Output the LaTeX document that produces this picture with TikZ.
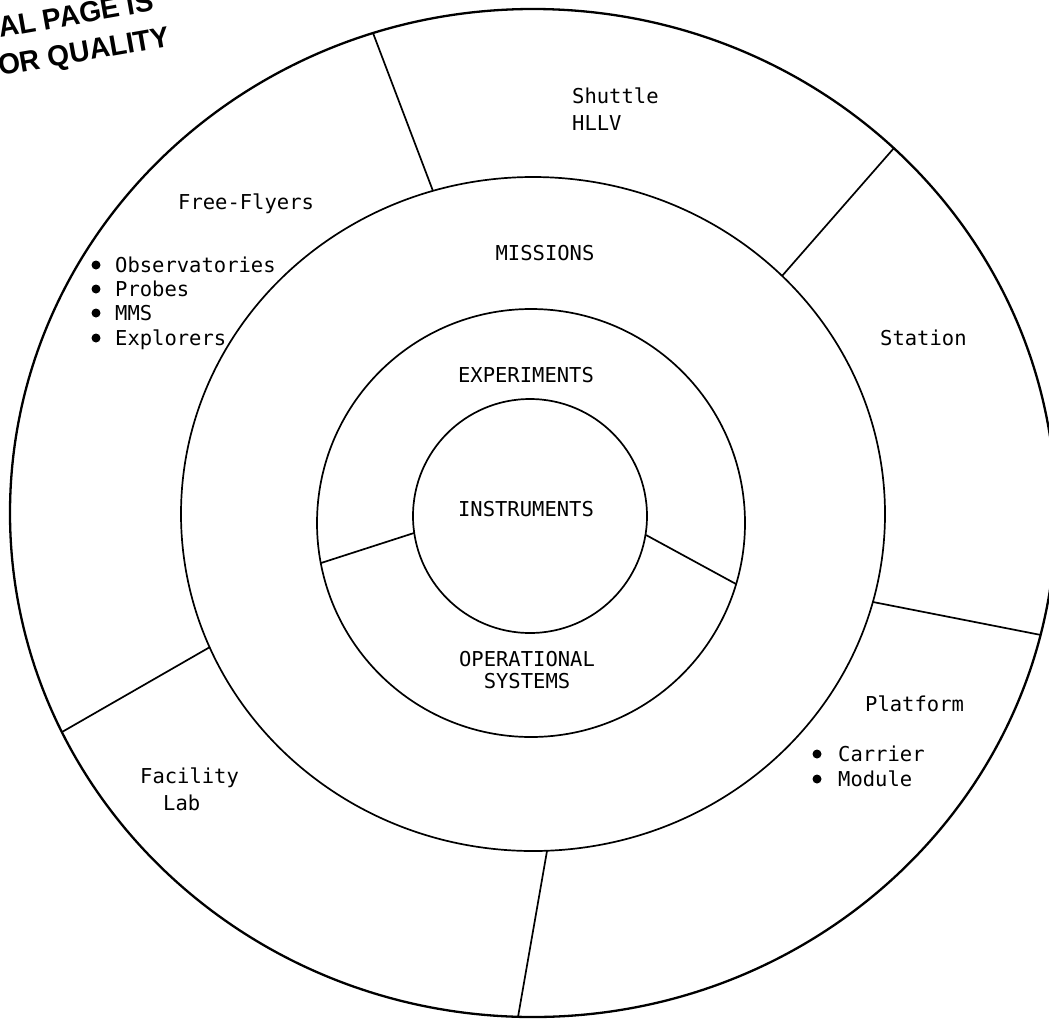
\documentclass[tikz,border=0pt]{standalone}
\usepackage{fontspec}
\newfontfamily\dmono{DejaVu Sans Mono}
\newfontfamily\stampfont{Liberation Sans}
\begin{document}
\begin{tikzpicture}[x=1pt,y=-1pt,
  ring/.style={line width=1.7pt},
  outerring/.style={line width=2.3pt},
  divider/.style={line width=1.7pt},
  lbl/.style={font=\dmono\fontsize{20.5}{24}\selectfont, inner sep=0pt},
  bul/.style={fill=black, circle, minimum size=9pt, inner sep=0pt},
  stamp/.style={font=\stampfont\bfseries\fontsize{29}{37.4}\selectfont, inner sep=0pt, anchor=base west, rotate=10}
]
\clip (0,0) rectangle (1049,1018);

% centres
\coordinate (cO) at (533,513);
\coordinate (cM) at (533,514);
\coordinate (cE) at (531,523);
\coordinate (cI) at (530,516);

% rings
\draw[outerring] (cO) ellipse [x radius=523pt, y radius=504pt];
\draw[ring] (cM) ellipse [x radius=352pt, y radius=337pt];
\draw[ring] (cE) circle [radius=214pt];
\draw[ring] (cI) circle [radius=117pt];

% outer ring dividers
\coordinate (d1o) at (373,33);   \coordinate (d1i) at (433,191);
\coordinate (d2o) at (894,148);  \coordinate (d2i) at (782,276);
\coordinate (d3o) at (1041,635); \coordinate (d3i) at (873,602);
\coordinate (d4o) at (518,1017); \coordinate (d4i) at (547,851);
\coordinate (d5o) at (62,732);   \coordinate (d5i) at (210,647);
\draw[divider] (d1o) -- (d1i);
\draw[divider] (d2o) -- (d2i);
\draw[divider] (d3o) -- (d3i);
\draw[divider] (d4o) -- (d4i);
\draw[divider] (d5o) -- (d5i);

% inner dividers
\coordinate (e1i) at (414,533); \coordinate (e1o) at (321,563);
\coordinate (e2i) at (646,535); \coordinate (e2o) at (736,584);
\draw[divider] (e1i) -- (e1o);
\draw[divider] (e2i) -- (e2o);

% centre labels
\node[lbl, anchor=base] (missions) at (545,260) {MISSIONS};
\node[lbl, anchor=base] (experiments) at (526,382) {EXPERIMENTS};
\node[lbl, anchor=base] (instruments) at (526,516) {INSTRUMENTS};
\node[lbl, anchor=base] (ops1) at (527,666) {OPERATIONAL};
\node[lbl, anchor=base] (ops2) at (527,688) {SYSTEMS};

% outer labels
\node[lbl, anchor=base west] (shuttle) at (572,103) {Shuttle};
\node[lbl, anchor=base west] (hllv) at (572,130) {HLLV};
\node[lbl, anchor=base west] (station) at (880,345) {Station};
\node[lbl, anchor=base west] (platform) at (865,711) {Platform};
\node[lbl, anchor=base west] (carrier) at (838,761) {Carrier};
\node[lbl, anchor=base west] (module) at (838,786) {Module};
\node[bul] (bc) at (817,754) {};
\node[bul] (bm) at (817,779) {};
\node[lbl, anchor=base west] (facility) at (140,783) {Facility};
\node[lbl, anchor=base west] (lab) at (163,810) {Lab};
\node[lbl, anchor=base west] (ff) at (178,209) {Free-Flyers};
\node[lbl, anchor=base west] (obs) at (115,272) {Observatories};
\node[lbl, anchor=base west] (probes) at (115,296) {Probes};
\node[lbl, anchor=base west] (mms) at (115,320) {MMS};
\node[lbl, anchor=base west] (expl) at (115,345) {Explorers};
\node[bul] (b1) at (96,265) {};
\node[bul] (b2) at (96,289) {};
\node[bul] (b3) at (96,313) {};
\node[bul] (b4) at (96,338) {};

% stamp
\node[stamp] (stamp) at (6.5,74.8) {\scalebox{0.97}[1]{\begin{tabular}[b]{@{}l@{}}AL PAGE IS\\\kern-6.6pt OR QUALITY\end{tabular}}};
\end{tikzpicture}
\end{document}
